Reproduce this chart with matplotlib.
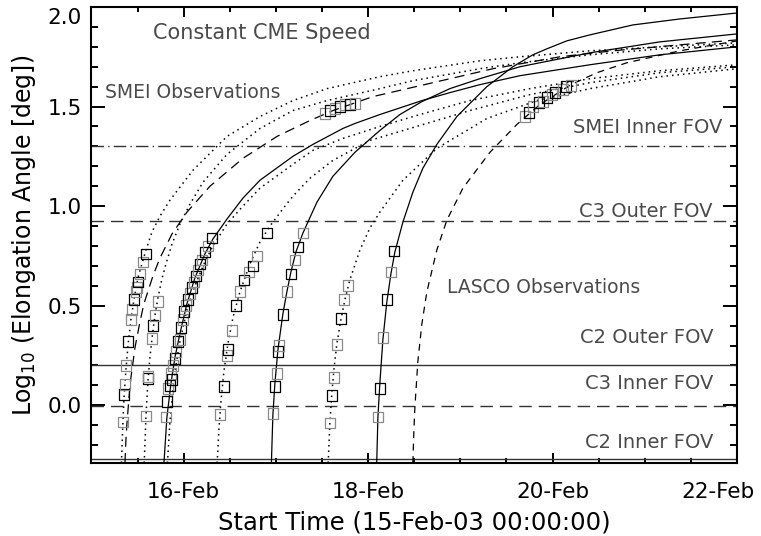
import matplotlib
matplotlib.use("Agg")
import matplotlib.pyplot as plt
import matplotlib.dates as mdates
import matplotlib.transforms as mtransforms
from matplotlib.ticker import MultipleLocator
import numpy as np
import pandas as pd

START = pd.Timestamp("2003-02-15 00:00:00")

# Constant-speed tracks: time in days after START, log10(elongation / deg)
dot1_t = [0.325, 0.341, 0.352, 0.374, 0.396, 0.428, 0.461, 0.504, 0.547, 0.591, 0.656, 0.743, 0.851,
          1.100, 1.469, 1.827, 2.184, 2.553, 3.127, 3.485, 4.211, 4.645, 5.404, 6.163, 7.0]
dot1_y = [-0.29, -0.085, 0.03, 0.18, 0.30, 0.43, 0.53, 0.64, 0.71, 0.78, 0.87, 0.95, 1.03,
          1.18, 1.35, 1.45, 1.53, 1.59, 1.65, 1.68, 1.73, 1.75, 1.78, 1.80, 1.82]

longdash_t = [0.363, 0.374, 0.385, 0.407, 0.428, 0.472, 0.526, 0.569, 0.667, 0.743, 0.873, 1.035,
              1.285, 1.642, 2.011, 2.369, 2.618, 3.051, 3.702, 4.352, 5.079, 5.653, 6.379, 7.0]
longdash_y = [-0.29, -0.17, -0.09, 0.04, 0.14, 0.29, 0.42, 0.51, 0.65, 0.74, 0.86, 0.97,
              1.10, 1.24, 1.35, 1.43, 1.48, 1.55, 1.62, 1.69, 1.75, 1.78, 1.81, 1.835]

dot2_t = [0.572, 0.591, 0.612, 0.634, 0.656, 0.688, 0.721, 0.764, 0.808, 0.873, 0.959, 1.068,
          1.209, 1.469, 1.827, 2.184, 2.553, 3.127, 3.485, 4.211, 4.645, 5.404, 6.163, 7.0]
dot2_y = [-0.29, -0.055, 0.12, 0.24, 0.335, 0.45, 0.54, 0.635, 0.71, 0.81, 0.91, 1.01,
          1.12, 1.26, 1.39, 1.48, 1.53, 1.59, 1.63, 1.69, 1.72, 1.76, 1.79, 1.81]

solid1_t = [0.786, 0.818, 0.862, 0.905, 0.959, 1.035, 1.122, 1.230, 1.317, 1.469, 1.642, 1.827,
            2.184, 2.401, 2.726, 2.856, 3.127, 3.583, 3.886, 4.211, 4.645, 5.404, 6.163, 7.0]
solid1_y = [-0.29, -0.06, 0.11, 0.24, 0.36, 0.51, 0.64, 0.76, 0.835, 0.935, 1.04, 1.13,
            1.25, 1.31, 1.39, 1.415, 1.46, 1.53, 1.57, 1.61, 1.655, 1.71, 1.76, 1.80]

dot3_t = [0.824, 0.851, 0.905, 0.959, 1.035, 1.122, 1.230, 1.317, 1.469, 1.642, 1.827,
          2.184, 2.401, 2.726, 3.127, 3.561, 4.103, 4.753, 5.404, 6.163, 7.0]
dot3_y = [-0.29, -0.08, 0.17, 0.32, 0.48, 0.60, 0.72, 0.80, 0.91, 1.00, 1.09,
          1.21, 1.28, 1.34, 1.40, 1.46, 1.53, 1.59, 1.64, 1.68, 1.71]

dot4_t = [1.363, 1.382, 1.404, 1.436, 1.480, 1.534, 1.610, 1.718, 1.827, 1.935, 2.098,
          2.184, 2.369, 2.618, 3.019, 3.669, 4.103, 4.753, 5.404, 6.163, 7.0]
dot4_y = [-0.29, -0.12, 0.02, 0.17, 0.31, 0.44, 0.57, 0.71, 0.82, 0.90, 1.00,
          1.05, 1.14, 1.23, 1.33, 1.42, 1.48, 1.56, 1.62, 1.67, 1.70]

solid2_t = [1.951, 1.967, 1.989, 2.022, 2.076, 2.119, 2.163, 2.217, 2.293, 2.445, 2.618,
            2.856, 3.127, 3.344, 3.583, 3.886, 4.211, 4.645, 5.404, 6.163, 7.0]
solid2_y = [-0.29, -0.05, 0.11, 0.28, 0.46, 0.57, 0.67, 0.77, 0.865, 1.02, 1.15,
            1.27, 1.38, 1.46, 1.525, 1.59, 1.64, 1.70, 1.77, 1.825, 1.865]

dot5_t = [2.567, 2.585, 2.607, 2.629, 2.661, 2.705, 2.748, 2.802, 2.911, 3.019,
          3.127, 3.377, 3.745, 4.287, 4.829, 5.404, 6.163, 7.0]
dot5_y = [-0.29, -0.09, 0.06, 0.18, 0.31, 0.43, 0.53, 0.63, 0.78, 0.89,
          0.97, 1.13, 1.29, 1.44, 1.53, 1.59, 1.65, 1.69]

solid3_t = [3.093, 3.106, 3.127, 3.160, 3.203, 3.247, 3.290, 3.377, 3.485, 3.593, 3.745, 3.962, 4.070,
            4.157, 4.287, 4.428, 4.569, 4.786, 4.938, 5.154, 5.404, 5.870, 6.379, 7.0]
solid3_y = [-0.29, -0.06, 0.11, 0.33, 0.52, 0.66, 0.77, 0.92, 1.07, 1.19, 1.31, 1.45, 1.50,
            1.54, 1.60, 1.65, 1.70, 1.76, 1.79, 1.83, 1.86, 1.91, 1.94, 1.97]

shortdash_t = [3.485, 3.496, 3.507, 3.539, 3.583, 3.637, 3.745, 3.854, 4.027,
               4.320, 4.612, 4.862, 5.198, 5.480, 5.805, 6.379, 7.0]
shortdash_y = [-0.29, -0.13, -0.01, 0.22, 0.41, 0.57, 0.78, 0.93, 1.09,
               1.27, 1.41, 1.51, 1.61, 1.67, 1.72, 1.78, 1.83]

# Measured positions (LASCO C2/C3 and SMEI)
lasco1_t = [0.341, 0.352, 0.363, 0.374, 0.396, 0.428, 0.439, 0.461, 0.482, 0.493, 0.504, 0.526, 0.558, 0.591]
lasco1_y = [-0.085, 0.055, 0.105, 0.20, 0.32, 0.43, 0.48, 0.53, 0.57, 0.59, 0.62, 0.66, 0.72, 0.76]
lasco2_t = [0.591, 0.612, 0.612, 0.656, 0.667, 0.688, 0.721]
lasco2_y = [-0.055, 0.135, 0.145, 0.335, 0.40, 0.45, 0.52]
lasco3_t = [0.808, 0.818, 0.829, 0.851, 0.862, 0.873, 0.883, 0.905, 0.916, 0.938, 0.959, 0.970, 0.992,
            1.003, 1.024, 1.046, 1.068, 1.089, 1.111, 1.133, 1.154, 1.176, 1.198, 1.230, 1.263, 1.306]
lasco3_y = [-0.06, 0.02, 0.085, 0.10, 0.16, 0.13, 0.20, 0.235, 0.27, 0.32, 0.33, 0.39, 0.43,
            0.47, 0.50, 0.53, 0.56, 0.59, 0.62, 0.65, 0.68, 0.71, 0.73, 0.77, 0.80, 0.84]
lasco4_t = [1.393, 1.436, 1.469, 1.480, 1.523, 1.566, 1.610, 1.653, 1.707, 1.751, 1.794, 1.902]
lasco4_y = [-0.045, 0.095, 0.25, 0.28, 0.375, 0.50, 0.57, 0.63, 0.67, 0.70, 0.75, 0.865]
lasco5_t = [1.967, 1.989, 2.011, 2.022, 2.033, 2.076, 2.119, 2.163, 2.206, 2.238, 2.293]
lasco5_y = [-0.04, 0.095, 0.16, 0.27, 0.30, 0.455, 0.57, 0.66, 0.73, 0.795, 0.865]
lasco6_t = [2.585, 2.607, 2.629, 2.661, 2.705, 2.737, 2.780]
lasco6_y = [-0.09, 0.05, 0.14, 0.305, 0.435, 0.53, 0.60]
lasco7_t = [3.106, 3.127, 3.160, 3.203, 3.247, 3.279]
lasco7_y = [-0.06, 0.085, 0.34, 0.53, 0.67, 0.775]
smei1_t = [2.531, 2.585, 2.640, 2.694, 2.748, 2.802, 2.856]
smei1_y = [1.465, 1.48, 1.49, 1.50, 1.51, 1.51, 1.515]
smei2_t = [4.699, 4.743, 4.786, 4.851, 4.894, 4.938, 4.992, 5.024, 5.111, 5.144, 5.198]
smei2_y = [1.45, 1.47, 1.50, 1.52, 1.525, 1.545, 1.56, 1.57, 1.585, 1.60, 1.605]

# Instrument field-of-view limits, log10(deg)
fov_names = ["SMEI Inner FOV", "C3 Outer FOV", "C2 Outer FOV", "C3 Inner FOV", "C2 Inner FOV"]
fov_levels = [1.301, 0.925, 0.204, -0.005, -0.27]

y_major = [0.0, 0.5, 1.0, 1.5, 2.0]

DOT = (0, (1, 2.6))
LONG_DASH = (0, (8, 5))
SHORT_DASH = (0, (5.5, 4.5))
H_DASH = (0, (9, 5))
H_DASHDOT = (0, (9, 3, 1, 3))
TEXT_GREY = "#4a4a4a"


def when(days):
    return (START + pd.to_timedelta(np.asarray(days, dtype=float), unit="D")).to_numpy()


plt.rcParams["font.family"] = ["DejaVu Sans"]
plt.rcParams["mathtext.fontset"] = "dejavusans"

fig = plt.figure(figsize=(7.61, 5.36), dpi=100)
ax = fig.add_axes([0.1202, 0.1362, 0.8483, 0.8507])

# field-of-view limits
fov_styles = [H_DASHDOT, H_DASH, "-", H_DASH, "-"]
for level, ls in zip(fov_levels, fov_styles):
    ax.axhline(level, color="#333333", lw=1.0, ls=ls)

# constant speed tracks
tracks = [
    (dot1_t, dot1_y, DOT), (dot2_t, dot2_y, DOT), (dot3_t, dot3_y, DOT),
    (dot4_t, dot4_y, DOT), (dot5_t, dot5_y, DOT),
    (longdash_t, longdash_y, LONG_DASH), (shortdash_t, shortdash_y, SHORT_DASH),
    (solid1_t, solid1_y, "-"), (solid2_t, solid2_y, "-"), (solid3_t, solid3_y, "-"),
]
for t, y, ls in tracks:
    lw = 1.1 if ls is DOT else 0.9
    ax.plot(when(t), y, color="black", lw=lw, ls=ls)

# observed points, open squares
groups = [(lasco1_t, lasco1_y, 3), (lasco2_t, lasco2_y, 3), (lasco3_t, lasco3_y, 2),
          (lasco4_t, lasco4_y, 2), (lasco5_t, lasco5_y, 2), (lasco6_t, lasco6_y, 3),
          (lasco7_t, lasco7_y, 2), (smei1_t, smei1_y, 2), (smei2_t, smei2_y, 2)]
for t, y, every in groups:
    idx = np.arange(len(t))
    edges = np.where(idx % every == 1, "black", "#8a8a8a")
    ax.scatter(when(t), y, marker="s", s=58, facecolors="none",
               edgecolors=edges, linewidths=0.9, zorder=3)

# annotations
txt = dict(transform=ax.transAxes, color=TEXT_GREY, va="baseline")
ax.text(0.0953, 0.9298, "Constant CME Speed", fontsize=15, ha="left", **txt)
ax.text(0.0209, 0.8004, "SMEI Observations", fontsize=13.5, ha="left", **txt)
ax.text(0.5507, 0.3728, "LASCO Observations", fontsize=13.5, ha="left", **txt)
fov_text_pos = [(0.9768, 0.7237), (0.9613, 0.5395), (0.9628, 0.2632), (0.9628, 0.1623), (0.9628, 0.0329)]
for name, (x, y) in zip(fov_names, fov_text_pos):
    ax.text(x, y, name, fontsize=14, ha="right", **txt)

# axes
ax.set_xlim(when([0.0])[0], when([7.0])[0])
ax.set_ylim(-0.29, 2.0)
ax.xaxis.set_major_locator(mdates.DayLocator(bymonthday=[16, 18, 20, 22]))
ax.xaxis.set_minor_locator(mdates.HourLocator(byhour=[0, 12]))
ax.xaxis.set_major_formatter(mdates.DateFormatter("%d-%b"))
ax.set_yticks(y_major)
ax.set_yticklabels([f"{v:.1f}" for v in y_major])
ax.yaxis.set_minor_locator(MultipleLocator(0.1))

ax.tick_params(which="both", direction="in", top=True, right=True, width=1.4,
               labelsize=15.5, colors="black")
ax.tick_params(axis="x", which="major", length=7.5, pad=13.5)
ax.tick_params(axis="x", which="minor", length=3.8)
ax.tick_params(axis="y", which="major", length=10, pad=6.8)
ax.tick_params(axis="y", which="minor", length=5)
for sp in ax.spines.values():
    sp.set_linewidth(1.5)

ax.set_xlabel("Start Time (15-Feb-03 00:00:00)", fontsize=17.5)
ax.set_ylabel("Log$_{10}$ (Elongation Angle [deg])", fontsize=17)
ax.xaxis.set_label_coords(0.5, -0.105)
ax.yaxis.set_label_coords(-0.083, 0.5)

# keep the end labels inside the frame
fig.canvas.draw()
last_x = ax.xaxis.get_major_ticks()[-1].label1
last_x.set_transform(last_x.get_transform() +
                     mtransforms.ScaledTranslation(-0.19, 0, fig.dpi_scale_trans))
top_y = ax.yaxis.get_major_ticks()[-1].label1
top_y.set_transform(top_y.get_transform() +
                    mtransforms.ScaledTranslation(0, -0.09, fig.dpi_scale_trans))

fig.savefig("out.png", dpi=100)
